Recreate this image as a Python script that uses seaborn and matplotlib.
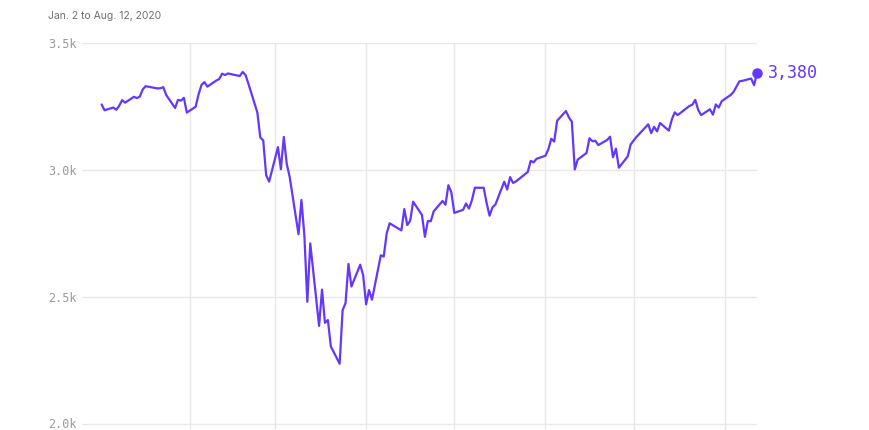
import matplotlib
matplotlib.use("Agg")
import matplotlib.pyplot as plt
import matplotlib.transforms as mtransforms
import seaborn as sns
import pandas as pd

dates = [
    "2020-01-02", "2020-01-03", "2020-01-06", "2020-01-07", "2020-01-08", "2020-01-09", "2020-01-10",
    "2020-01-13", "2020-01-14", "2020-01-15", "2020-01-16", "2020-01-17", "2020-01-21", "2020-01-22",
    "2020-01-23", "2020-01-24", "2020-01-27", "2020-01-28", "2020-01-29", "2020-01-30", "2020-01-31",
    "2020-02-03", "2020-02-04", "2020-02-05", "2020-02-06", "2020-02-07", "2020-02-10", "2020-02-11",
    "2020-02-12", "2020-02-13", "2020-02-14", "2020-02-18", "2020-02-19", "2020-02-20", "2020-02-21",
    "2020-02-24", "2020-02-25", "2020-02-26", "2020-02-27", "2020-02-28", "2020-03-02", "2020-03-03",
    "2020-03-04", "2020-03-05", "2020-03-06", "2020-03-09", "2020-03-10", "2020-03-11", "2020-03-12",
    "2020-03-13", "2020-03-16", "2020-03-17", "2020-03-18", "2020-03-19", "2020-03-20", "2020-03-23",
    "2020-03-24", "2020-03-25", "2020-03-26", "2020-03-27", "2020-03-30", "2020-03-31", "2020-04-01",
    "2020-04-02", "2020-04-03", "2020-04-06", "2020-04-07", "2020-04-08", "2020-04-09", "2020-04-13",
    "2020-04-14", "2020-04-15", "2020-04-16", "2020-04-17", "2020-04-20", "2020-04-21", "2020-04-22",
    "2020-04-23", "2020-04-24", "2020-04-27", "2020-04-28", "2020-04-29", "2020-04-30", "2020-05-01",
    "2020-05-04", "2020-05-05", "2020-05-06", "2020-05-07", "2020-05-08", "2020-05-11", "2020-05-12",
    "2020-05-13", "2020-05-14", "2020-05-15", "2020-05-18", "2020-05-19", "2020-05-20", "2020-05-21",
    "2020-05-22", "2020-05-26", "2020-05-27", "2020-05-28", "2020-05-29", "2020-06-01", "2020-06-02",
    "2020-06-03", "2020-06-04", "2020-06-05", "2020-06-08", "2020-06-09", "2020-06-10", "2020-06-11",
    "2020-06-12", "2020-06-15", "2020-06-16", "2020-06-17", "2020-06-18", "2020-06-19", "2020-06-22",
    "2020-06-23", "2020-06-24", "2020-06-25", "2020-06-26", "2020-06-29", "2020-06-30", "2020-07-01",
    "2020-07-02", "2020-07-06", "2020-07-07", "2020-07-08", "2020-07-09", "2020-07-10", "2020-07-13",
    "2020-07-14", "2020-07-15", "2020-07-16", "2020-07-17", "2020-07-20", "2020-07-21", "2020-07-22",
    "2020-07-23", "2020-07-24", "2020-07-27", "2020-07-28", "2020-07-29", "2020-07-30", "2020-07-31",
    "2020-08-03", "2020-08-04", "2020-08-05", "2020-08-06", "2020-08-07", "2020-08-10", "2020-08-11",
    "2020-08-12",
]
values = [
    3258, 3235, 3246, 3237, 3253, 3275, 3265,
    3288, 3283, 3289, 3317, 3330, 3321, 3322,
    3326, 3295, 3244, 3276, 3273, 3284, 3226,
    3249, 3298, 3335, 3346, 3328, 3352, 3358,
    3379, 3374, 3380, 3370, 3386, 3373, 3338,
    3226, 3128, 3116, 2979, 2954, 3090, 3003,
    3130, 3024, 2972, 2747, 2882, 2741, 2481,
    2711, 2386, 2529, 2398, 2409, 2305, 2237,
    2447, 2476, 2630, 2541, 2627, 2585, 2471,
    2527, 2489, 2664, 2659, 2750, 2790, 2762,
    2846, 2783, 2800, 2875, 2823, 2737, 2799,
    2798, 2837, 2878, 2863, 2940, 2912, 2831,
    2843, 2868, 2848, 2881, 2930, 2930, 2870,
    2820, 2853, 2864, 2954, 2923, 2972, 2949,
    2955, 2992, 3036, 3030, 3044, 3056, 3081,
    3123, 3112, 3194, 3232, 3207, 3190, 3002,
    3041, 3067, 3125, 3113, 3115, 3098, 3118,
    3131, 3050, 3084, 3009, 3053, 3100, 3116,
    3130, 3180, 3145, 3170, 3152, 3185, 3155,
    3198, 3227, 3216, 3225, 3252, 3257, 3276,
    3236, 3216, 3239, 3218, 3258, 3246, 3271,
    3295, 3307, 3328, 3349, 3351, 3360, 3334,
    3380,
]
month_starts = ["2020-02-01", "2020-03-01", "2020-04-01", "2020-05-01",
                "2020-06-01", "2020-07-01", "2020-08-01"]
y_ticks = [2000, 2500, 3000, 3500]
y_tick_labels = ["2.0k", "2.5k", "3.0k", "3.5k"]
subtitle = "Jan. 2 to Aug. 12, 2020"
last_label = "3,380"

df = pd.DataFrame({"date": pd.to_datetime(dates), "value": values})

sns.set_style("white")
plt.rcParams["font.family"] = ["DejaVu Sans"]

LINE = "#6436ff"
GRID = "#e8e8e8"

fig = plt.figure(figsize=(8.7, 4.3), dpi=100)
ax = fig.add_axes([82 / 870, 0.0, (757 - 82) / 870, 1 - 43 / 430])

sns.lineplot(data=df, x="date", y="value", ax=ax, color=LINE, linewidth=1.6, zorder=3)

last = df.iloc[-1]
ax.plot([last["date"]], [last["value"]], marker="o", markersize=6.5, color=LINE,
        clip_on=False, zorder=4)
ax.annotate(last_label, xy=(last["date"], last["value"]), xytext=(8, 0),
            textcoords="offset points", va="center", ha="left",
            fontsize=12, color=LINE, family=["DejaVu Sans Mono"],
            annotation_clip=False)

ax.set_xlim(pd.Timestamp("2019-12-26 08:00"), pd.Timestamp("2020-08-12"))
ax.set_ylim(1976, 3500)

ax.set_xticks(pd.to_datetime(month_starts))
ax.set_xticklabels([])
ax.set_yticks(y_ticks)
ax.set_yticklabels(y_tick_labels, family=["DejaVu Sans Mono"], fontsize=8.5, color="#999999")
ax.tick_params(axis="both", length=0, pad=4)
ax.grid(True, color=GRID, linewidth=1)
ax.set_axisbelow(True)
for s in ax.spines.values():
    s.set_visible(False)
ax.set_xlabel("")
ax.set_ylabel("")

# nudge the bottom tick label up slightly so it stays inside the canvas
bottom_label = ax.get_yticklabels()[0]
bottom_label.set_verticalalignment("baseline")
bottom_label.set_transform(bottom_label.get_transform() +
                           mtransforms.ScaledTranslation(0, -3.2 / 72, fig.dpi_scale_trans))

fig.text(48 / 870, 1 - 16 / 430, subtitle, fontsize=7.5, color="#707070",
         family=["Inter", "DejaVu Sans"], va="center", ha="left")

fig.savefig("out.png", dpi=100)
